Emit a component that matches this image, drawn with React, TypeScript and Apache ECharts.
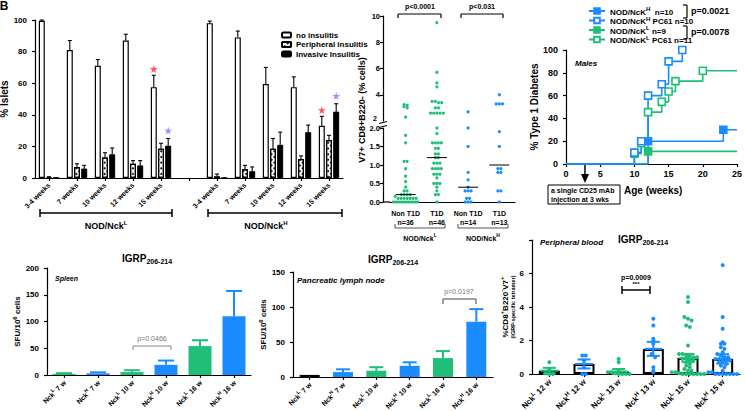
import React, { useEffect, useRef } from 'react';
import * as echarts from 'echarts';

const FONT = '"Liberation Sans", Arial, Helvetica, sans-serif';
const GREEN = '#1fbf7a';
const BLUE = '#1a8cff';
const RED = '#ff2a2a';
const PURPLE = '#9b6bf0';

// ---------- Panel A: insulitis ----------
const insulitisWeeks = ['3-4 weeks', '7 weeks', '10 weeks', '12 weeks', '15 weeks', '', '3-4 weeks', '7 weeks', '10 weeks', '12 weeks', '15 weeks'];
const noInsulitis = [99.5, 81, 71, 87, 57.5, null, 98, 89, 59.5, 57.5, 33];
const noInsulitisTop = [100, 87, 75, 91, 65, null, 99.3, 93, 70, 64, 39];
const periInsulitis = [0, 7, 13, 9, 18.5, null, 1, 5.5, 18.5, 12, 24];
const periInsulitisTop = [0.8, 9, 16, 11, 22, null, 2.5, 8, 25, 14, 27];
const invInsulitis = [0, 6, 15, 8, 20.5, null, 0, 4.3, 21, 29, 42];
const invInsulitisTop = [0, 8, 19, 11, 25, null, 0, 7, 29, 33.5, 47];
const starCats = [4, 4, 10, 10];
const starBars = [0, 2, 0, 2];
const starValues = [69, 30, 43, 52];
const starColors = [RED, PURPLE, RED, PURPLE];

// ---------- Panel B: V7+ CD8+ scatter ----------
const bGroups = ['Non T1D\nn=36', 'T1D\nn=46', 'Non T1D\nn=14', 'T1D\nn=13'];
const bStrain = ['L', 'L', 'H', 'H'];
const bNckLNon = [3.25, 3.2, 3.1, 3.0, 2.3, 1.8, 1.6, 1.1, 1.1, 0.9, 0.7, 0.55, 0.4, 0.3, 0.3, 0.2, 0.2, 0.2, 0.2, 0.15,
  0.1, 0.1, 0.1, 0.1, 0.1, 0.1, 0.1, 0, 0, 0, 0, 0, 0, 0, 0, 0];
const bNckLT1D = [9.5, 5.7, 4.9, 4.6, 3.5, 3.5, 3.4, 3.4, 3.0, 3.0, 2.6, 2.6, 2.6, 2.6, 2.6,
  2.0, 1.85, 1.6, 1.6, 1.6, 1.6, 1.45, 1.45, 1.3, 1.3, 1.2, 1.2, 1.05, 1.05, 1.05, 0.9, 0.9, 0.9, 0.9,
  0.75, 0.75, 0.75, 0.65, 0.5, 0.5, 0.5, 0.4, 0.3, 0.2, 0.2, 0.0];
const bNckHNon = [2.7, 2.0, 1.5, 0.8, 0.6, 0.4, 0.3, 0.3, 0.3, 0.1, 0.1, 0, 0, 0];
const bNckHT1D = [4.0, 3.3, 3.3, 3.3, 1.9, 1.5, 0.9, 0.9, 0.8, 0.8, 0.3, 0.3, 0];
const bMedians = [0.2, 1.2, 0.4, 1.0];

// ---------- Panel C: survival ----------
const survH = [[0, 0], [12, 20], [23, 30], [25, 30]];
const survHPC61 = [[0, 0], [10, 10], [11, 20], [12, 60], [14, 70], [15, 90], [17, 100]];
const survL = [[0, 0], [12, 11.1], [25, 11.1]];
const survLPC61 = [[0, 0], [10, 9.1], [11, 18.2], [12, 45.5], [14, 54.5], [15, 63.6], [16, 72.7], [20, 81.8], [25, 81.8]];

// ---------- Panels D/E: ELISPOT ----------
const elStrain = ['L', 'H', 'L', 'H', 'L', 'H'];
const elWeeks = ['7', '7', '10', '10', '16', '16'];
const spleenMean = [2, 3, 5.5, 19, 54, 110];
const spleenTop = [3.5, 5, 9, 27, 65, 157];
const plnMean = [3, 7, 9, 16, 27, 79];
const plnTop = [3, 11, 14, 21, 37, 97];

// ---------- Panel F: peripheral blood ----------
const pbStrain = ['L', 'H', 'L', 'H', 'L', 'H'];
const pbWeeks = ['12', '12', '13', '13', '15', '15'];
const pbMean = [0.2, 0.6, 0.15, 1.5, 0.95, 0.9];
const pbSem = [0.17, 0.27, 0.15, 0.42, 0.24, 0.28];
const pbValues = [
  [0.7, 0.3, 0.05, 0, 0],
  [1.1, 1.1, 0.8, 0.4, 0, 0],
  [0.9, 0.7, 0.2, 0.1, 0.1, 0.05, 0, 0, 0, 0],
  [3.3, 2.9, 2.1, 2.0, 1.8, 1.2, 1.0, 0.4, 0.2, 0.1],
  [4.6, 4.3, 3.4, 3.3, 3.2, 2.9, 2.8, 1.7, 1.2, 1.2, 1.1, 1.1, 1.0, 1.0, 0.9, 0.9, 0.8, 0.8, 0.7, 0.6, 0.5, 0.4,
    0.3, 0.2, 0.2, 0.1, 0.1, 0.05, 0, 0, 0, 0, 0, 0, 0],
  [6.5, 3.4, 2.7, 1.9, 1.8, 1.8, 1.6, 1.5, 1.3, 1.2, 1.1, 1.0, 1.0, 0.9, 0.9, 0.8, 0.8, 0.8, 0.7, 0.7, 0.6, 0.5,
    0.4, 0.2, 0.1, 0.1, 0, 0, 0, 0, 0, 0, 0],
];

const strainColor = (s: string) => (s === 'L' ? GREEN : BLUE);

function swarm(values: number[], bin: number, spacing: number): number[] {
  const offs = new Array(values.length).fill(0);
  const groups: Record<string, number[]> = {};
  values.forEach((v, i) => {
    const k = String(Math.round(v / bin));
    (groups[k] = groups[k] || []).push(i);
  });
  Object.keys(groups).forEach((k) => {
    const idx = groups[k];
    const n = idx.length;
    idx.forEach((i, j) => { offs[i] = (j - (n - 1) / 2) * spacing; });
  });
  return offs;
}

// superscript rich styles: base text sits at the bottom of the line, the small token at the top
const supRich = (size: number, color = '#000') => ({
  n: { fontSize: size, fontWeight: 'bold', color, lineHeight: size + 2, verticalAlign: 'bottom', fontFamily: FONT },
  s: { fontSize: Math.round(size * 0.72), fontWeight: 'bold', color, lineHeight: size + 2, verticalAlign: 'top', fontFamily: FONT },
});
// subscript rich styles
const subRich = {
  a: { fontSize: 10, fontWeight: 'bold', color: '#000', lineHeight: 12, verticalAlign: 'top', fontFamily: FONT },
  b: { fontSize: 7, fontWeight: 'bold', color: '#000', lineHeight: 12, verticalAlign: 'bottom', fontFamily: FONT },
};

const axisBase = (gridIndex: number) => ({
  gridIndex,
  axisLine: { show: true, onZero: false, lineStyle: { color: '#000', width: 1.2 } },
  axisTick: { show: true, length: 3, lineStyle: { color: '#000', width: 1.2 } },
  splitLine: { show: false },
  axisLabel: { color: '#000', fontWeight: 'bold', fontSize: 8, fontFamily: FONT },
});

function errorSeries(ai: number, items: number[][], color: string | ((c: number) => string), o: { offset?: number; cap: number; width: number; both?: boolean; meanW?: number }) {
  return {
    type: 'custom', xAxisIndex: ai, yAxisIndex: ai, data: items, z: 6, silent: true, clip: false,
    renderItem: (_p: any, api: any) => {
      const cat = api.value(0), lo = api.value(1), hi = api.value(2);
      const pLo = api.coord([cat, lo]);
      const pHi = api.coord([cat, hi]);
      const x = pLo[0] + (o.offset || 0);
      const col = typeof color === 'function' ? color(cat) : color;
      const st = { stroke: col, lineWidth: o.width };
      const ch: any[] = [
        { type: 'line', shape: { x1: x, y1: pLo[1], x2: x, y2: pHi[1] }, style: st },
        { type: 'line', shape: { x1: x - o.cap / 2, y1: pHi[1], x2: x + o.cap / 2, y2: pHi[1] }, style: st },
      ];
      if (o.both) ch.push({ type: 'line', shape: { x1: x - o.cap / 2, y1: pLo[1], x2: x + o.cap / 2, y2: pLo[1] }, style: st });
      if (o.meanW) {
        const pm = api.coord([cat, api.value(3)]);
        ch.push({ type: 'line', shape: { x1: x - o.meanW / 2, y1: pm[1], x2: x + o.meanW / 2, y2: pm[1] }, style: st });
      }
      return { type: 'group', children: ch };
    },
  };
}

function dotSeries(ai: number, items: number[][], color: (c: number) => string, r: number) {
  return {
    type: 'custom', xAxisIndex: ai, yAxisIndex: ai, data: items, z: 7, silent: true, clip: false,
    renderItem: (_p: any, api: any) => {
      const cat = api.value(0);
      const c = api.coord([cat, api.value(1)]);
      return { type: 'circle', shape: { cx: c[0] + api.value(2), cy: c[1], r }, style: { fill: color(cat) } };
    },
  };
}

const L = (x1: number, y1: number, x2: number, y2: number, color = '#000', w = 1.2) => ({
  type: 'line', silent: true, shape: { x1, y1, x2, y2 }, style: { stroke: color, lineWidth: w },
});
const T = (x: number, y: number, text: string, o: any = {}) => ({
  type: 'text', x, y, silent: true, rotation: o.rotation || 0,
  style: {
    text, fontSize: 8, fontWeight: 'bold', fill: '#000', fontFamily: FONT,
    align: 'center', textAlign: 'center', verticalAlign: 'middle', textVerticalAlign: 'middle', ...o.style,
  },
});

export default function App() {
  const ref = useRef<HTMLDivElement>(null);
  useEffect(() => {
    document.body.style.margin = '0';
    const chart = echarts.init(ref.current!, null, { renderer: 'svg' });

    const barOff = [-7.2, 0, 7.2];
    const errItems = (mean: (number | null)[], top: (number | null)[]) =>
      mean.map((m, i) => (m === null ? null : [i, m, top[i] as number])).filter((d) => d !== null) as number[][];

    const bAll = [bNckLNon, bNckLT1D, bNckHNon, bNckHT1D];
    const bUpper: number[][] = [];
    const bLower: number[][] = [];
    bAll.forEach((vals, gi) => {
      const up = vals.filter((v) => v > 2);
      const lo = vals.filter((v) => v <= 2);
      const ou = swarm(up, 0.25, 3.2);
      const ol = swarm(lo, 0.1, 3.0);
      up.forEach((v, i) => bUpper.push([gi, v, ou[i]]));
      lo.forEach((v, i) => bLower.push([gi, v, ol[i]]));
    });

    const pbDots: number[][] = [];
    pbValues.forEach((vals, ci) => {
      const offs = swarm(vals, 0.22, 3.6);
      vals.forEach((v, i) => pbDots.push([ci, v, offs[i]]));
    });

    const survSeries = (name: string, data: number[][], col: string, open: boolean) => ({
      type: 'line', name, xAxisIndex: 3, yAxisIndex: 3, step: 'end',
      symbol: 'rect', symbolSize: 7, showSymbol: true,
      lineStyle: { color: col, width: 1.6 },
      itemStyle: { color: open ? '#fff' : col, borderColor: col, borderWidth: 1.6 },
      data: data.map((d, i) => ({
        value: d,
        symbol: i > 0 && d[1] !== data[i - 1][1] ? 'rect' : 'none',
      })),
    });

    const elLabel = (strain: string[], weeks: string[]) => (_v: string, i: number) => `{n|Nck}{s|${strain[i]}}{n| ${weeks[i]} w}`;
    const gridBase = { containLabel: false, outerBoundsMode: 'none' };
    const catTick = { show: true, alignWithLabel: true, length: 3, lineStyle: { color: '#000', width: 1.2 } };

    const option: any = {
      animation: false,
      textStyle: { fontFamily: FONT },
      grid: [
        { left: 35, top: 20, width: 308, height: 158, ...gridBase },
        { left: 390, top: 16, width: 125, height: 105, ...gridBase },
        { left: 390, top: 128, width: 125, height: 74, ...gridBase },
        { left: 566, top: 50, width: 171, height: 114, ...gridBase },
        { left: 47, top: 268, width: 204, height: 107, ...gridBase },
        { left: 293, top: 272, width: 200, height: 105, ...gridBase },
        { left: 532, top: 240, width: 208, height: 134, ...gridBase },
      ],
      legend: [
        {
          data: ['no insulitis', 'Peripheral insulitis', 'Invasive Insulitis'],
          left: 276, top: 26, orient: 'vertical', itemWidth: 9, itemHeight: 5, itemGap: 1.5,
          selectedMode: false, textStyle: { fontSize: 8, fontWeight: 'bold', color: '#000', fontFamily: FONT },
        },
        {
          data: ['H', 'HPC', 'L', 'LPC'],
          left: 583, top: 1, orient: 'vertical', itemWidth: 16, itemHeight: 7, itemGap: -0.5,
          selectedMode: false,
          formatter: (name: string) => ({
            H: '{n|NOD/NcK}{s|H}{n|  n=10}',
            HPC: '{n|NOD/NcK}{s|H}{n| PC61 n=10}',
            L: '{n|NOD/NcK}{s|L}{n| n=9}',
            LPC: '{n|NOD/NcK}{s|L}{n| PC61 n=11}',
          } as any)[name],
          textStyle: { fontSize: 8, fontWeight: 'bold', color: '#000', rich: supRich(8) },
        },
      ],
      xAxis: [
        {
          ...axisBase(0), type: 'category', data: insulitisWeeks, axisTick: catTick,
          axisLabel: { color: '#000', fontWeight: 'bold', fontSize: 7, rotate: 45, interval: 0, margin: 6, fontFamily: FONT },
        },
        { ...axisBase(1), type: 'category', data: bGroups, show: false },
        {
          ...axisBase(2), type: 'category', data: bGroups, axisTick: { show: false },
          axisLabel: { color: '#000', fontWeight: 'bold', fontSize: 7, lineHeight: 9, interval: 0, margin: 7, fontFamily: FONT },
        },
        {
          ...axisBase(3), type: 'value', min: 0, max: 25, interval: 5,
          axisLabel: { color: '#000', fontWeight: 'bold', fontSize: 9, margin: 5, fontFamily: FONT },
        },
        {
          ...axisBase(4), type: 'category', data: elWeeks.map((w, i) => elStrain[i] + w), axisTick: catTick,
          axisLabel: { rotate: 45, interval: 0, margin: 6, formatter: elLabel(elStrain, elWeeks), rich: supRich(7) },
        },
        {
          ...axisBase(5), type: 'category', data: elWeeks.map((w, i) => elStrain[i] + w), axisTick: catTick,
          axisLabel: { rotate: 45, interval: 0, margin: 6, formatter: elLabel(elStrain, elWeeks), rich: supRich(7) },
        },
        {
          ...axisBase(6), type: 'category', data: pbWeeks.map((w, i) => pbStrain[i] + w), axisTick: catTick,
          axisLabel: { rotate: 45, interval: 0, margin: 6, formatter: elLabel(pbStrain, pbWeeks), rich: supRich(8) },
        },
      ],
      yAxis: [
        {
          ...axisBase(0), type: 'value', min: 0, max: 100, interval: 20,
          name: '% Islets', nameLocation: 'middle', nameGap: 21,
          nameTextStyle: { fontSize: 10, fontWeight: 'bold', color: '#000', fontFamily: FONT },
        },
        {
          ...axisBase(1), type: 'value', min: 2, max: 10, interval: 2, offset: 7,
          axisLabel: { color: '#000', fontWeight: 'bold', fontSize: 7.5, margin: 3, fontFamily: FONT, showMinLabel: false },
        },
        {
          ...axisBase(2), type: 'value', min: 0, max: 2, interval: 0.5, offset: 7,
          axisLabel: { color: '#000', fontWeight: 'bold', fontSize: 7.5, margin: 3, fontFamily: FONT, formatter: (v: number) => v.toFixed(1) },
        },
        {
          ...axisBase(3), type: 'value', min: 0, max: 100, interval: 20,
          axisLabel: { color: '#000', fontWeight: 'bold', fontSize: 9, fontFamily: FONT },
          name: '% Type 1 Diabetes', nameLocation: 'middle', nameGap: 25,
          nameTextStyle: { fontSize: 10, fontWeight: 'bold', color: '#000', fontFamily: FONT },
        },
        {
          ...axisBase(4), type: 'value', min: 0, max: 200, interval: 50,
          name: '{n|SFU/10}{s|6}{n| cells}', nameLocation: 'middle', nameGap: 23,
          nameTextStyle: { rich: supRich(8) },
        },
        {
          ...axisBase(5), type: 'value', min: 0, max: 150, interval: 50,
          name: '{n|SFU/10}{s|6}{n| cells}', nameLocation: 'middle', nameGap: 23,
          nameTextStyle: { rich: supRich(8) },
        },
        {
          ...axisBase(6), type: 'value', min: 0, max: 8, interval: 2,
          axisLabel: { color: '#000', fontWeight: 'bold', fontSize: 8, fontFamily: FONT, formatter: (v: number) => (v === 8 ? '' : String(v)) },
          name: '{n|%CD8}{s|+}{n|B220}{s|-}{n|V7}{s|+}\n{t|(IGRP-specific tetramer)}', nameLocation: 'middle', nameGap: 14,
          nameTextStyle: { rich: { ...supRich(8), t: { fontSize: 5.5, fontWeight: 'bold', color: '#000', lineHeight: 7, fontFamily: FONT } } },
        },
      ],
      series: [
        // Panel A bars
        {
          type: 'bar', name: 'no insulitis', xAxisIndex: 0, yAxisIndex: 0, barWidth: 6, barGap: '20%',
          data: noInsulitis, itemStyle: { color: '#fff', borderColor: '#000', borderWidth: 1.2 },
        },
        {
          type: 'bar', name: 'Peripheral insulitis', xAxisIndex: 0, yAxisIndex: 0, barWidth: 6, barGap: '20%',
          data: periInsulitis,
          itemStyle: {
            color: '#fff', borderColor: '#000', borderWidth: 1.2,
            decal: { symbol: 'rect', symbolSize: 1, color: '#222', dashArrayX: [1.6, 1.6], dashArrayY: [1.6, 1.6], rotation: Math.PI / 4 },
          },
        },
        {
          type: 'bar', name: 'Invasive Insulitis', xAxisIndex: 0, yAxisIndex: 0, barWidth: 6, barGap: '20%',
          data: invInsulitis, itemStyle: { color: '#000', borderColor: '#000', borderWidth: 1 },
        },
        errorSeries(0, errItems(noInsulitis, noInsulitisTop), '#000', { offset: barOff[0], cap: 4, width: 1.1 }),
        errorSeries(0, errItems(periInsulitis, periInsulitisTop), '#000', { offset: barOff[1], cap: 4, width: 1.1 }),
        errorSeries(0, errItems(invInsulitis, invInsulitisTop), '#000', { offset: barOff[2], cap: 4, width: 1.1 }),
        {
          type: 'scatter', xAxisIndex: 0, yAxisIndex: 0, z: 8, silent: true,
          symbol: 'path://M50 0L61 35L98 35L68 57L79 91L50 70L21 91L32 57L2 35L39 35Z', symbolSize: 8,
          data: starCats.map((c, i) => ({ value: [c, starValues[i]], symbolOffset: [barOff[starBars[i]], 0], itemStyle: { color: starColors[i] } })),
        },
        // Panel B
        dotSeries(1, bUpper, (c) => strainColor(bStrain[c]), 1.6),
        dotSeries(2, bLower, (c) => strainColor(bStrain[c]), 1.6),
        {
          type: 'custom', xAxisIndex: 2, yAxisIndex: 2, silent: true, z: 8, clip: false,
          data: bMedians.map((m, i) => [i, m]),
          renderItem: (_p: any, api: any) => {
            const c = api.coord([api.value(0), api.value(1)]);
            return { type: 'line', shape: { x1: c[0] - 10, y1: c[1], x2: c[0] + 10, y2: c[1] }, style: { stroke: '#000', lineWidth: 1 } };
          },
        },
        // Panel C
        survSeries('L', survL, GREEN, false),
        survSeries('LPC', survLPC61, GREEN, true),
        survSeries('H', survH, BLUE, false),
        survSeries('HPC', survHPC61, BLUE, true),
        // Panel D
        {
          type: 'bar', xAxisIndex: 4, yAxisIndex: 4, barWidth: 23,
          data: spleenMean.map((v, i) => ({ value: v, itemStyle: { color: strainColor(elStrain[i]) } })),
        },
        errorSeries(4, spleenMean.map((m, i) => [i, m, spleenTop[i]]), (c) => strainColor(elStrain[c]), { cap: 16, width: 2 }),
        // Panel E
        {
          type: 'bar', xAxisIndex: 5, yAxisIndex: 5, barWidth: 20,
          data: plnMean.map((v, i) => ({
            value: v,
            itemStyle: i === 0 ? { color: '#fff', borderColor: '#000', borderWidth: 1.5 } : { color: strainColor(elStrain[i]) },
          })),
        },
        errorSeries(5, plnMean.map((m, i) => [i, m, plnTop[i]]).slice(1), (c) => strainColor(elStrain[c]), { cap: 14, width: 2 }),
        // Panel F
        {
          type: 'bar', xAxisIndex: 6, yAxisIndex: 6, barWidth: 21,
          data: pbMean, itemStyle: { color: '#fff', borderColor: '#000', borderWidth: 2 },
        },
        dotSeries(6, pbDots, (c) => strainColor(pbStrain[c]), 2),
        errorSeries(6, pbMean.map((m, i) => [i, m - pbSem[i], m + pbSem[i], m]), (c) => strainColor(pbStrain[c]), { cap: 13, width: 2, both: true, meanW: 18 }),
      ],
      graphic: [
        T(4, 6, 'B', { style: { fontSize: 12 } }),
        // Panel A group brackets
        L(40, 213, 172, 213, '#000', 1.5), L(40, 209, 40, 217, '#000', 1.5), L(172, 209, 172, 217, '#000', 1.5),
        L(208, 213, 342, 213, '#000', 1.5), L(208, 209, 208, 217, '#000', 1.5), L(342, 209, 342, 217, '#000', 1.5),
        T(106, 225, '{n|NOD/Nck}{s|L}', { style: { rich: supRich(9, '#2ecc40') } }),
        T(266, 225, '{n|NOD/Nck}{s|H}', { style: { rich: supRich(9, '#3399ff') } }),
        // Panel B annotations
        L(398, 14, 441, 14), L(398, 14, 398, 18), L(441, 14, 441, 18),
        T(420, 6, 'p<0.0001', { style: { fontSize: 7 } }),
        L(461, 14, 503, 14), L(461, 14, 461, 18), L(503, 14, 503, 18),
        T(482, 6, 'p<0.031', { style: { fontSize: 7 } }),
        L(383, 202, 390, 202),
        { type: 'rect', silent: true, shape: { x: 379, y: 121.5, width: 8, height: 6 }, style: { fill: '#fff' } },
        L(379, 123.5, 387, 121.5), L(379, 127.5, 387, 125.5),
        T(377, 118, '2', { style: { fontSize: 7, align: 'right', textAlign: 'right' } }),
        L(395, 228, 445, 228, '#555', 1), L(395, 224, 395, 228, '#555', 1), L(445, 224, 445, 228, '#555', 1),
        L(458, 228, 508, 228, '#555', 1), L(458, 224, 458, 228, '#555', 1), L(508, 224, 508, 228, '#555', 1),
        T(420, 237, '{n|NOD/Nck}{s|L}', { style: { rich: supRich(7) } }),
        T(483, 237, '{n|NOD/Nck}{s|H}', { style: { rich: supRich(7) } }),
        T(362, 110, 'V7+ CD8+B220- (% cells)', { rotation: Math.PI / 2, style: { fontSize: 9 } }),
        // Panel C annotations
        L(683, 5, 687, 5), L(687, 5, 687, 18), L(683, 18, 687, 18),
        T(691, 11, 'p=0.0021', { style: { fontSize: 9, align: 'left', textAlign: 'left' } }),
        L(683, 26, 687, 26), L(687, 26, 687, 39), L(683, 39, 687, 39),
        T(691, 32, 'p=0.0078', { style: { fontSize: 9, align: 'left', textAlign: 'left' } }),
        T(575, 63, 'Males', { style: { fontSize: 8, fontStyle: 'italic', align: 'left', textAlign: 'left' } }),
        L(585, 165, 585, 175, '#000', 1.5),
        { type: 'polygon', silent: true, shape: { points: [[581, 174], [589, 174], [585, 183]] }, style: { fill: '#000' } },
        { type: 'rect', silent: true, shape: { x: 548, y: 185, width: 72, height: 19 }, style: { fill: '#fff', stroke: '#000', lineWidth: 1 } },
        T(551, 190, 'a single CD25 mAb', { style: { fontSize: 7, align: 'left', textAlign: 'left' } }),
        T(551, 199, 'injection at 3 wks', { style: { fontSize: 7, align: 'left', textAlign: 'left' } }),
        T(624, 190, 'Age (weeks)', { style: { fontSize: 10, align: 'left', textAlign: 'left' } }),
        // Panel D annotations
        T(147, 259, '{a|IGRP}{b|206-214}', { style: { rich: subRich } }),
        T(55, 278, 'Spleen', { style: { fontSize: 7, fontStyle: 'italic', align: 'left', textAlign: 'left' } }),
        L(133, 346, 171, 346, '#888', 1), L(133, 346, 133, 350, '#888', 1), L(171, 346, 171, 350, '#888', 1),
        T(152, 338, 'p=0.0466', { style: { fontSize: 7, fontWeight: 'normal', fill: '#777' } }),
        // Panel E annotations
        T(393, 260, '{a|IGRP}{b|206-214}', { style: { rich: subRich } }),
        T(297, 280, 'Pancreatic lymph node', { style: { fontSize: 8, fontStyle: 'italic', align: 'left', textAlign: 'left' } }),
        L(443, 299, 476, 299, '#444', 1), L(443, 299, 443, 304, '#444', 1), L(476, 299, 476, 304, '#444', 1),
        T(459, 291, 'p=0.0197', { style: { fontSize: 7, fontWeight: 'normal', fill: '#777' } }),
        // Panel F annotations
        T(643, 240, '{a|IGRP}{b|206-214}', { style: { rich: subRich } }),
        T(540, 242, 'Peripheral blood', { style: { fontSize: 8, fontStyle: 'italic', align: 'left', textAlign: 'left' } }),
        L(622, 290, 650, 290, '#000', 1.5), L(622, 286, 622, 294, '#000', 1.5), L(650, 286, 650, 294, '#000', 1.5),
        T(636, 277, 'p=0.0009', { style: { fontSize: 7 } }),
        T(636, 284, '***', { style: { fontSize: 6 } }),
      ],
    };
    chart.setOption(option);
    return () => chart.dispose();
  }, []);
  return <div ref={ref} style={{ width: 745, height: 411 }} />;
}
